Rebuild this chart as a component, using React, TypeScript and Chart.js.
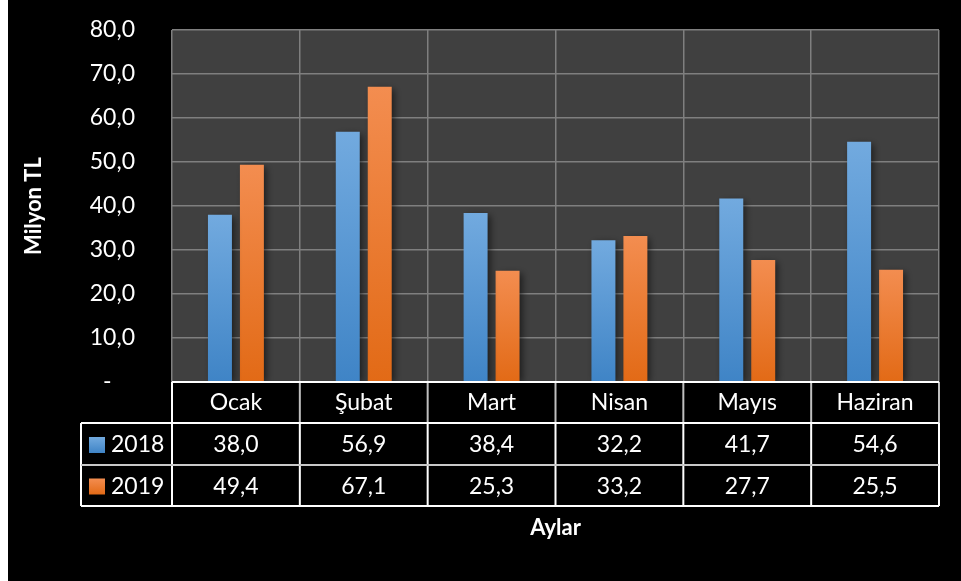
import React, { useEffect, useRef } from "react";
import { Chart, registerables } from "chart.js";

Chart.register(...registerables);

const categories = ["Ocak", "Şubat", "Mart", "Nisan", "Mayıs", "Haziran"];
const seriesNames = ["2018", "2019"];
const values2018 = [38.0, 56.9, 38.4, 32.2, 41.7, 54.6];
const values2019 = [49.4, 67.1, 25.3, 33.2, 27.7, 25.5];
const yMin = 0;
const yMax = 80;
const yStep = 10;
const xTitle = "Aylar";
const yTitle = "Milyon TL";

const FONT = "Lato, 'Noto Sans', sans-serif";
const blueTop = "#72aadf";
const blueBottom = "#3f84c6";
const orangeTop = "#f38d50";
const orangeBottom = "#e26a16";

const fmt = (v: number) => v.toFixed(1).replace(".", ",");

function makeBarColor(top: string, bottom: string) {
  return (ctx: any) => {
    const chart = ctx.chart;
    const area = chart.chartArea;
    const yScale = chart.scales?.y;
    if (!area || !yScale || ctx.parsed == null) return bottom;
    const yTop = yScale.getPixelForValue(ctx.parsed.y);
    const yBase = yScale.getPixelForValue(0);
    if (!isFinite(yTop) || Math.abs(yBase - yTop) < 1) return bottom;
    const g = chart.ctx.createLinearGradient(0, yTop, 0, yBase);
    g.addColorStop(0, top);
    g.addColorStop(1, bottom);
    return g;
  };
}

const tablePlugin = {
  id: "dataTable",
  beforeDraw(chart: any) {
    const { ctx, chartArea } = chart;
    ctx.save();
    ctx.fillStyle = "#000000";
    ctx.fillRect(0, 0, chart.width, chart.height);
    ctx.fillStyle = "#404040";
    ctx.fillRect(chartArea.left, chartArea.top, chartArea.right - chartArea.left, chartArea.bottom - chartArea.top);
    ctx.restore();
  },
  beforeDatasetsDraw(chart: any) {
    const ctx = chart.ctx;
    ctx.save();
    ctx.shadowColor = "rgba(0,0,0,0.55)";
    ctx.shadowBlur = 7;
    ctx.shadowOffsetX = 3;
    ctx.shadowOffsetY = 2;
  },
  afterDatasetsDraw(chart: any) {
    chart.ctx.restore();
  },
  afterDraw(chart: any) {
    const { ctx, chartArea } = chart;
    const x = chart.scales.x;
    const n = categories.length;
    const left = chartArea.left;
    const right = chartArea.right;
    const top = chartArea.bottom;
    const rowH = [41, 42, 41];
    const r0 = top;
    const r1 = r0 + rowH[0];
    const r2 = r1 + rowH[1];
    const r3 = r2 + rowH[2];
    const tableLeft = 73;
    const half = (x.getPixelForValue(1) - x.getPixelForValue(0)) / 2;

    ctx.save();
    ctx.lineWidth = 2;
    ctx.strokeStyle = "#bfbfbf";
    for (let i = 1; i <= n; i++) {
      const px = i === n ? right : x.getPixelForValue(i) - half;
      ctx.beginPath();
      ctx.moveTo(px, r0);
      ctx.lineTo(px, r1);
      ctx.stroke();
    }
    ctx.strokeStyle = "#ffffff";
    ctx.beginPath();
    ctx.moveTo(left, r0);
    ctx.lineTo(right, r0);
    ctx.moveTo(left, r0);
    ctx.lineTo(left, r3);
    ctx.moveTo(tableLeft, r1);
    ctx.lineTo(right, r1);
    ctx.moveTo(tableLeft, r3);
    ctx.lineTo(right, r3);
    ctx.moveTo(tableLeft, r1);
    ctx.lineTo(tableLeft, r3);
    for (let i = 1; i <= n; i++) {
      const px = i === n ? right : x.getPixelForValue(i) - half;
      ctx.moveTo(px, r1);
      ctx.lineTo(px, r3);
    }
    ctx.stroke();
    ctx.strokeStyle = "#c8c8c8";
    ctx.beginPath();
    ctx.moveTo(tableLeft, r2);
    ctx.lineTo(right, r2);
    ctx.stroke();

    const rows = [
      { name: seriesNames[0], vals: values2018, top: blueTop, bottom: blueBottom, y0: r1, y1: r2 },
      { name: seriesNames[1], vals: values2019, top: orangeTop, bottom: orangeBottom, y0: r2, y1: r3 },
    ];
    ctx.font = `23px ${FONT}`;
    ctx.fillStyle = "#ffffff";
    ctx.textBaseline = "middle";
    for (const r of rows) {
      const cy = (r.y0 + r.y1) / 2 + 1;
      const g = ctx.createLinearGradient(0, cy - 8, 0, cy + 8);
      g.addColorStop(0, r.top);
      g.addColorStop(1, r.bottom);
      ctx.fillStyle = g;
      ctx.fillRect(81, cy - 8, 16, 16);
      ctx.fillStyle = "#ffffff";
      ctx.textAlign = "left";
      ctx.fillText(r.name, 103, cy);
      ctx.textAlign = "center";
      r.vals.forEach((v: number, i: number) => {
        ctx.fillText(fmt(v), x.getPixelForValue(i), cy);
      });
    }
    ctx.restore();
  },
};

export default function App() {
  const ref = useRef<HTMLCanvasElement>(null);
  useEffect(() => {
    if (!ref.current) return;
    const chart = new Chart(ref.current, {
      type: "bar",
      data: {
        labels: categories,
        datasets: [
          {
            label: seriesNames[0],
            data: values2018,
            backgroundColor: makeBarColor(blueTop, blueBottom),
            borderWidth: 0,
          },
          {
            label: seriesNames[1],
            data: values2019,
            backgroundColor: makeBarColor(orangeTop, orangeBottom),
            borderWidth: 0,
          },
        ],
      },
      options: {
        responsive: false,
        maintainAspectRatio: false,
        animation: false,
        events: [],
        layout: { padding: { top: 30, right: 22, left: 0, bottom: 0 } },
        plugins: {
          legend: { display: false },
          tooltip: { enabled: false },
          title: { display: false },
        },
        datasets: {
          bar: { categoryPercentage: 0.5, barPercentage: 0.75 },
        },
        scales: {
          x: {
            offset: true,
            grid: { color: "#7f7f7f", lineWidth: 1.5, drawTicks: false, offset: true },
            border: { display: false },
            ticks: { color: "#ffffff", font: { family: FONT, size: 23 }, padding: 7 },
            title: {
              display: true,
              text: xTitle,
              color: "#ffffff",
              font: { family: FONT, size: 22, weight: "bold" },
              padding: { top: 0, bottom: 40 },
            },
            afterFit: (s: any) => {
              s.height = 199;
            },
          },
          y: {
            min: yMin,
            max: yMax,
            grid: {
              color: "#7f7f7f",
              lineWidth: 1.5,
              drawTicks: true,
              tickLength: 37,
              tickColor: "rgba(0,0,0,0)",
            },
            border: { display: false },
            ticks: {
              stepSize: yStep,
              color: "#ffffff",
              font: { family: FONT, size: 23 },
              padding: 0,
              callback: (v: any) => (Number(v) === 0 ? "-    " : fmt(Number(v))),
            },
            title: {
              display: true,
              text: yTitle,
              color: "#ffffff",
              font: { family: FONT, size: 22, weight: "bold" },
              padding: { top: 13, bottom: 0 },
            },
            afterFit: (s: any) => {
              s.width = 164;
            },
          },
        },
      },
      plugins: [tablePlugin],
    });
    return () => chart.destroy();
  }, []);
  return (
    <div style={{ position: "absolute", left: 8, top: 0, width: 953, height: 581, background: "#000" }}>
      <canvas ref={ref} width={953} height={581} style={{ display: "block" }} />
    </div>
  );
}
